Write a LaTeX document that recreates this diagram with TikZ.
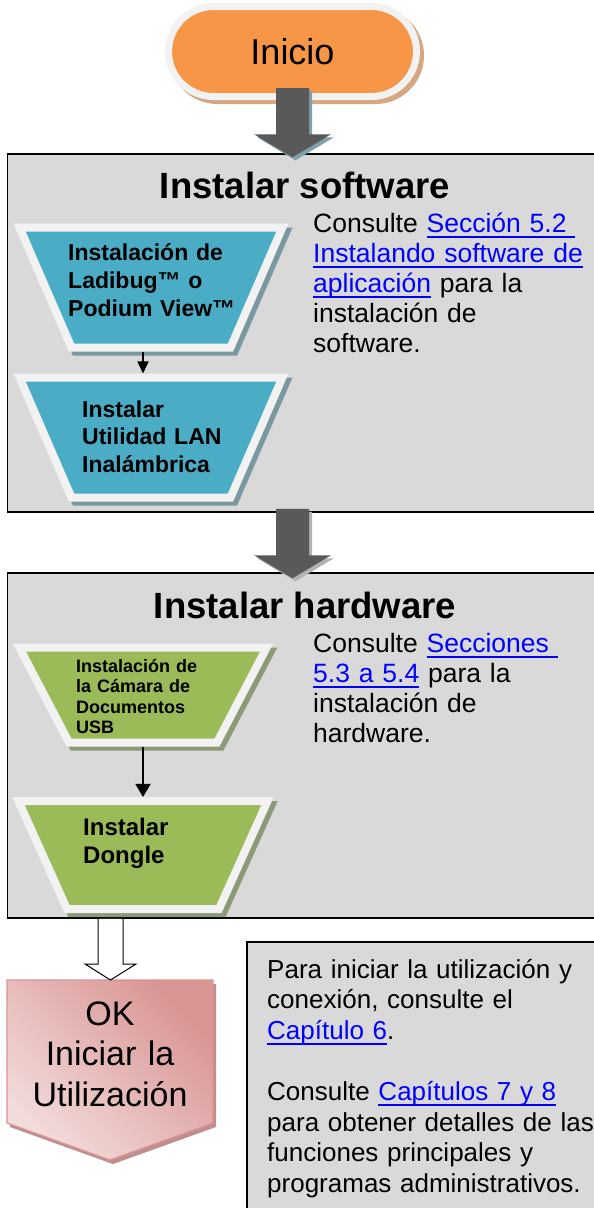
\documentclass[tikz,border=0pt]{standalone}
\usepackage{fontspec}
\setmainfont{Liberation Sans}
\usetikzlibrary{shapes.geometric,shadows}
\usetikzlibrary{arrows.meta,calc}

\definecolor{panelgray}{RGB}{217,217,217}
\definecolor{startorange}{RGB}{247,150,70}
\definecolor{startshadow}{RGB}{214,166,128}
\definecolor{rimwhite}{RGB}{242,242,242}
\definecolor{swcyan}{RGB}{75,172,198}
\definecolor{swshadow}{RGB}{122,152,160}
\definecolor{hwgreen}{RGB}{155,187,89}
\definecolor{hwshadow}{RGB}{140,154,120}
\definecolor{arrowgray}{RGB}{89,89,89}
\definecolor{arrowblue}{RGB}{127,160,170}
\definecolor{linkblue}{RGB}{0,0,255}
\definecolor{okpink}{RGB}{217,149,148}
\definecolor{oklight}{RGB}{242,220,219}
\definecolor{okshadow}{RGB}{192,142,142}

% blue underlined link text
\newcommand{\lnk}[1]{\leavevmode{\color{linkblue}\setbox0=\hbox{#1}\rlap{\rule[-5.5pt]{\wd0}{1.8pt}}\box0}}

% fat block arrow from #1 down to #2
\newcommand{\blockarrow}[3]{%
  \fill[#3] let \p1=#1, \p2=#2 in
    (\x1-16.5pt,\y1) -- (\x1-16.5pt,\y2+23pt) -- (\x1-38.5pt,\y2+23pt) -- (\x1,\y2)
    -- (\x1+38.5pt,\y2+23pt) -- (\x1+16.5pt,\y2+23pt) -- (\x1+16.5pt,\y1) -- cycle;}

\begin{document}
\begin{tikzpicture}[x=1pt,y=-1pt,
  panel/.style={rectangle,draw=black,line width=1.5pt,fill=panelgray,inner sep=0pt,anchor=north west},
  startbox/.style={rectangle,rounded corners=45pt,minimum width=248pt,minimum height=90pt,
    fill=startorange,draw=rimwhite,line width=7pt,font=\fontsize{36}{43}\selectfont,
    drop shadow={shadow xshift=4pt,shadow yshift=-4pt,fill=startshadow,draw=startshadow,line width=7pt,opacity=1}},
  swstep/.style={trapezium,shape border rotate=180,trapezium left angle=66.6,trapezium right angle=66.6,
    text width=159pt,text height=120pt,text depth=0pt,inner sep=0pt,
    fill=swcyan,draw=rimwhite,line width=8pt,
    drop shadow={shadow xshift=4pt,shadow yshift=-4pt,fill=swshadow,draw=swshadow,line width=8pt,opacity=1}},
  hwstep/.style={trapezium,shape border rotate=180,text depth=0pt,inner sep=0pt,
    fill=hwgreen,draw=rimwhite,line width=8pt,
    drop shadow={shadow xshift=4pt,shadow yshift=-4pt,fill=hwshadow,draw=hwshadow,line width=8pt,opacity=1}},
  steptext/.style={anchor=base west,inner sep=0pt,text width=200pt,align=left},
  heading/.style={anchor=base,inner sep=0pt,font=\bfseries\fontsize{36.5}{43}\selectfont},
  sidetext/.style={anchor=base west,inner sep=0pt,text width=290pt,align=left,font=\fontsize{26.5}{30}\selectfont},
  smallarr/.style={line width=1.5pt,-{Triangle[length=12pt,width=11pt]}},
  hollowarr/.style={draw=black,line width=1pt,fill=white},
]
\fill[white] (0,0) rectangle (594,1208);
\useasboundingbox (0,0) rectangle (594,1208);

% Panels
\node[panel,minimum width=620pt,minimum height=358pt] (soft) at (6.75,153.25) {};
\node[panel,minimum width=620pt,minimum height=345pt] (hard) at (6.75,572.25) {};
\node[panel,minimum width=400pt,minimum height=300pt] (notes) at (246.25,941.25) {};

% Start
\node[startbox] (inicio) at (292.5,51.5) {Inicio};

% Software steps
\node[heading] (swhead) at (305,198) {Instalar software};
\node[swstep] (cy1) at (151,287.5) {};
\node[swstep,below of=cy1,node distance=150pt] (cy2) {};
\node[steptext,font=\bfseries\fontsize{23}{28}\selectfont] (cy1t) at (68,260) {Instalación de\\Ladibug™ o\\Podium View™};
\node[steptext,font=\bfseries\fontsize{23}{27.5}\selectfont] (cy2t) at (82,417) {Instalar\\Utilidad LAN\\Inalámbrica};
\node[sidetext] (swref) at (313,232) {Consulte \lnk{Sección 5.2\ }\\\lnk{Instalando software de}\\\lnk{aplicación} para la\\instalación de\\software.};

% Hardware steps
\node[heading] (hwhead) at (305,618) {Instalar hardware};
\node[hwstep,trapezium left angle=62.4,trapezium right angle=62.4,text width=148pt,text height=95pt] (gr1) at (143,695) {};
\node[hwstep,trapezium left angle=65.8,trapezium right angle=65.8,text width=152pt,text height=108pt,
  below of=gr1,node distance=160pt] (gr2) {};
\node[steptext,font=\bfseries\fontsize{18}{20.5}\selectfont] (gr1t) at (76,672) {Instalación de\\la Cámara de\\Documentos\\USB};
\node[steptext,font=\bfseries\fontsize{24}{28}\selectfont] (gr2t) at (83,835) {Instalar\\Dongle};
\node[sidetext] (hwref) at (313,652) {Consulte \lnk{Secciones\ }\\\lnk{5.3 a 5.4} para la\\instalación de\\hardware.};

% Arrows
\path (inicio.south |- soft.north) coordinate (a1e);
\path (soft.south -| inicio.south) coordinate (a2s);
\path (hard.north -| inicio.south) coordinate (a2e);
\begin{scope}[transform canvas={shift={(3pt,-3pt)}}]
\blockarrow{([yshift=12pt]inicio.south)}{([yshift=-4pt]a1e)}{arrowblue}
\blockarrow{([yshift=4pt]a2s)}{([yshift=-6pt]a2e)}{gray!60}
\end{scope}
\blockarrow{([yshift=12pt]inicio.south)}{([yshift=-4pt]a1e)}{arrowgray}
\blockarrow{([yshift=4pt]a2s)}{([yshift=-6pt]a2e)}{arrowgray}
\draw[smallarr] ([xshift=-8pt]cy1.south) -- ([xshift=-8pt]cy2.north);
\draw[smallarr,-{Triangle[length=13pt,width=15pt]}] (gr1.south) -- (gr2.north);

% Result
\coordinate (oktop) at (110.5,980);
\fill[okshadow] (10,984) -- (216,984) -- (216,1127) -- (113,1164) -- (10,1127) -- cycle;
\draw[okpink,line width=1.2pt,left color=oklight,right color=okpink,shading angle=135]
  (7,980) -- (213,980) -- (213,1123) -- (110,1160) -- (7,1123) -- cycle;
\node[anchor=base,inner sep=0pt,text width=206pt,align=center,font=\fontsize{34}{40.5}\selectfont] (ok) at (110,1025) {OK\\Iniciar la\\Utilización};
\draw[hollowarr] let \p1=(hard.south -| oktop), \p2=(oktop) in
  (\x1-12.5pt,\y1) -- (\x1-12.5pt,\y2+16pt) -- (\x1-25.5pt,\y2+16pt) -- (\x2,\y2)
  -- (\x1+25.5pt,\y2+16pt) -- (\x1+12.5pt,\y2+16pt) -- (\x1+12.5pt,\y1);

% Notes
\node[sidetext,text width=360pt,font=\fontsize{26}{30.6}\selectfont] (notet) at (267,978) {Para iniciar la utilización y\\conexión, consulte el\\\lnk{Capítulo 6}.\\[30.6pt]Consulte \lnk{Capítulos 7 y 8}\\para obtener detalles de las\\funciones principales y\\programas administrativos.};

\end{tikzpicture}
\end{document}
